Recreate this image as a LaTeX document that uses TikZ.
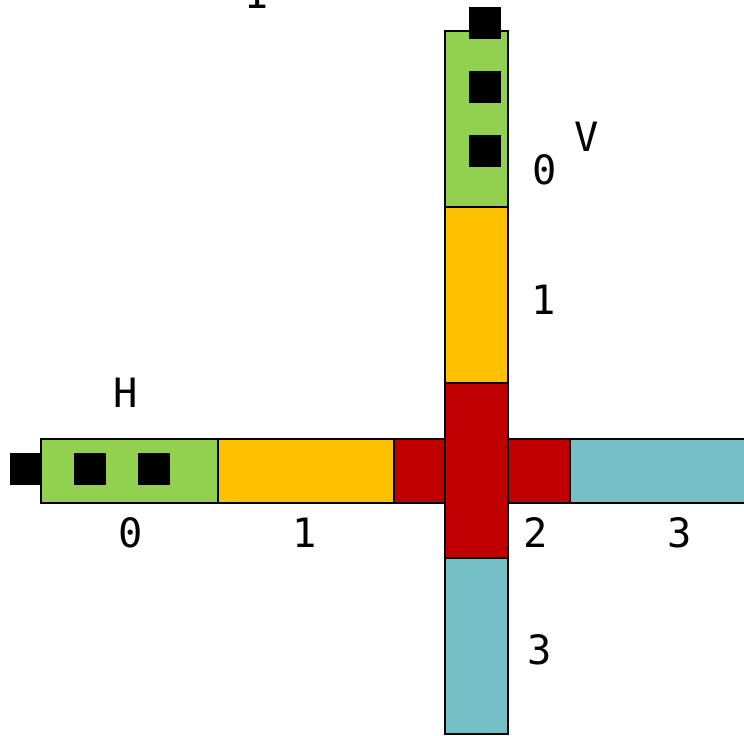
\documentclass[tikz,border=0pt]{standalone}
\usepackage{fontspec}
\setmonofont{DejaVu Sans Mono}
\usetikzlibrary{positioning}

\definecolor{laneGreen}{HTML}{92D050}
\definecolor{laneOrange}{HTML}{FFC000}
\definecolor{laneRed}{HTML}{C00000}
\definecolor{laneTeal}{HTML}{74C0C6}

\begin{document}
\begin{tikzpicture}[
        x=0.02cm, y=-0.02cm,
        seg/.style={draw=black, line width=1pt},
        tok/.style={fill=black},
        lbl/.style={font=\fontsize{23}{28}\selectfont\ttfamily, inner sep=0pt}
    ]
    \useasboundingbox (0,0) rectangle (744,736);

    % ------- horizontal lane (H) -------
    \draw[seg, fill=laneGreen]  (41,439)  rectangle (218,503);
    \draw[seg, fill=laneOrange] (218,439) rectangle (394,503);
    \draw[seg, fill=laneRed]    (394,439) rectangle (570,503);
    \draw[seg, fill=laneTeal]   (570,439) rectangle (770,503);

    % ------- vertical lane (V), drawn over the crossing -------
    \draw[seg, fill=laneGreen]  (445,31)  rectangle (508,207);
    \draw[seg, fill=laneOrange] (445,207) rectangle (508,383);
    \draw[seg, fill=laneRed]    (445,383) rectangle (508,558);
    \draw[seg, fill=laneTeal]   (445,558) rectangle (508,734);

    % queued cars
    \foreach \y in {7,71,135}
        \fill[tok] (469,\y) rectangle ++(32,32);
    \foreach \x in {10,74,138}
        \fill[tok] (\x,453) rectangle ++(32,32);

    % lane names
    \node[lbl, anchor=base] (nameI) at (258,9) {I};
    \node[lbl] (nameV) at (587,137) {V};
    \node[lbl] (nameH) at (126,393) {H};

    % segment numbers, vertical lane
    \node[lbl] (v0) at (545,170) {0};
    \node[lbl] (v1) at (544,300) {1};
    \node[lbl] (v3) at (540,650) {3};

    % segment numbers, horizontal lane
    \node[lbl] (h0) at (131,533) {0};
    \node[lbl] (h1) at (305,533) {1};
    \node[lbl] (h2) at (536,533) {2};
    \node[lbl] (h3) at (680,533) {3};

\end{tikzpicture}
\end{document}
